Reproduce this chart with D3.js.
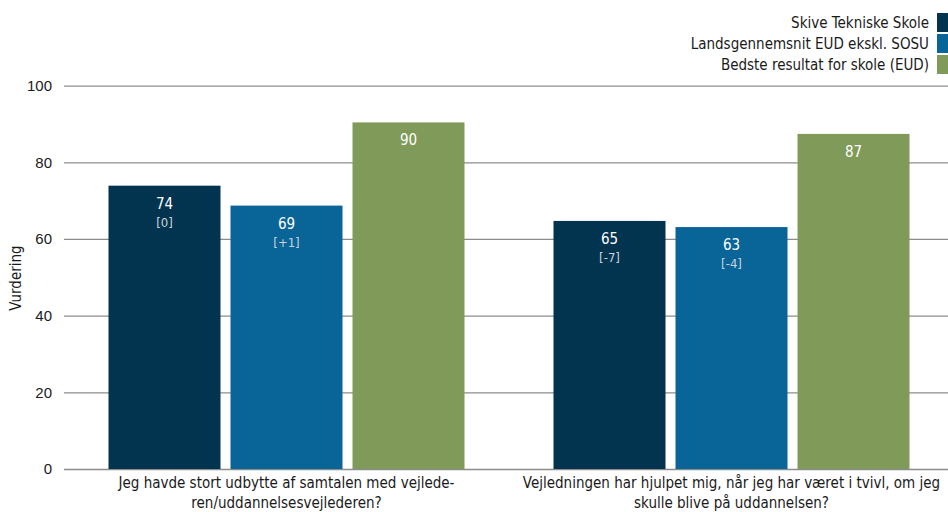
<!DOCTYPE html>
<html><head><meta charset="utf-8">
<script src="https://cdn.jsdelivr.net/npm/d3@7"></script>
<style>
html,body{margin:0;padding:0;background:#fff;}
svg{display:block;font-family:"DejaVu Sans Condensed","DejaVu Sans",sans-serif;}
</style></head>
<body>
<svg id="chart" width="948" height="512"></svg>
<script>
const categories = [
  ["Jeg havde stort udbytte af samtalen med vejlede-", "ren/uddannelsesvejlederen?"],
  ["Vejledningen har hjulpet mig, når jeg har været i tvivl, om jeg", "skulle blive på uddannelsen?"]
];
const seriesNames = ["Skive Tekniske Skole", "Landsgennemsnit EUD ekskl. SOSU", "Bedste resultat for skole (EUD)"];
const seriesColors = ["#02334f", "#096598", "#7f9a59"];
const skiveValues = [73.9, 64.7];
const landsValues = [68.7, 63.1];
const bedsteValues = [90.4, 87.4];
const skiveDelta = ["[0]", "[-7]"];
const landsDelta = ["[+1]", "[-4]"];
const bedsteDelta = ["", ""];
const yTicks = [0, 20, 40, 60, 80, 100];
const yLabel = "Vurdering";

const svg = d3.select("#chart");
const W = 948, H = 512;
const m = {left: 64, right: 0, top: 86, bottom: 43};
const seriesVals = [skiveValues, landsValues, bedsteValues];
const seriesDeltas = [skiveDelta, landsDelta, bedsteDelta];

const x0 = d3.scaleBand().domain(d3.range(categories.length)).range([64, 954]).paddingInner(0.2).paddingOuter(0.1);
const x1 = d3.scaleBand().domain(d3.range(seriesNames.length)).range([0, x0.bandwidth()]).paddingInner(0.082).paddingOuter(0);
const y = d3.scaleLinear().domain([0, 100]).range([469, 85.6]);

// gridlines
const yAxis = d3.axisLeft(y).tickValues(yTicks).tickSize(-(W - m.left)).tickPadding(12);
const gy = svg.append("g").attr("transform", `translate(${m.left},0)`).call(yAxis);
gy.select(".domain").remove();
gy.selectAll(".tick line").attr("stroke", "#8c8c8c").attr("stroke-width", 1.3);
gy.selectAll(".tick text").attr("font-size", 15).attr("fill", "#1a1a1a").attr("font-family", "inherit");

svg.append("text").attr("transform", `translate(21,278) rotate(-90)`).attr("text-anchor", "middle")
  .attr("font-size", 15).attr("fill", "#1a1a1a").text(yLabel);

// bars
const groups = svg.selectAll("g.grp").data(categories).join("g").attr("class", "grp")
  .attr("transform", (d, i) => `translate(${x0(i)},0)`);

seriesNames.forEach((s, si) => {
  groups.append("rect")
    .attr("x", x1(si)).attr("width", x1.bandwidth())
    .attr("y", (d, i) => y(seriesVals[si][i]))
    .attr("height", (d, i) => y(0) - y(seriesVals[si][i]))
    .attr("fill", seriesColors[si]);
  groups.append("text")
    .attr("x", x1(si) + x1.bandwidth() / 2)
    .attr("y", (d, i) => y(seriesVals[si][i]) + 23)
    .attr("text-anchor", "middle").attr("font-size", 15).attr("fill", "#ffffff")
    .text((d, i) => Math.round(seriesVals[si][i]));
  groups.append("text")
    .attr("x", x1(si) + x1.bandwidth() / 2)
    .attr("y", (d, i) => y(seriesVals[si][i]) + 41)
    .attr("text-anchor", "middle").attr("font-size", 13).attr("fill", "#c9d3dd")
    .text((d, i) => seriesDeltas[si][i]);
});

// category labels
groups.each(function(d, i) {
  const g = d3.select(this);
  d.forEach((line, li) => {
    g.append("text").attr("x", x0.bandwidth() / 2).attr("y", 488 + li * 20)
      .attr("text-anchor", "middle").attr("font-size", 15).attr("fill", "#1a1a1a").text(line);
  });
});

// legend
const leg = svg.append("g");
seriesNames.forEach((s, i) => {
  const cy = 23 + i * 21;
  leg.append("rect").attr("x", 937).attr("y", cy - 10).attr("width", 11).attr("height", 19).attr("fill", seriesColors[i]);
  leg.append("text").attr("x", 929).attr("y", cy + 5).attr("text-anchor", "end")
    .attr("font-size", 15).attr("fill", "#1a1a1a").text(s);
});
</script>
</body></html>
